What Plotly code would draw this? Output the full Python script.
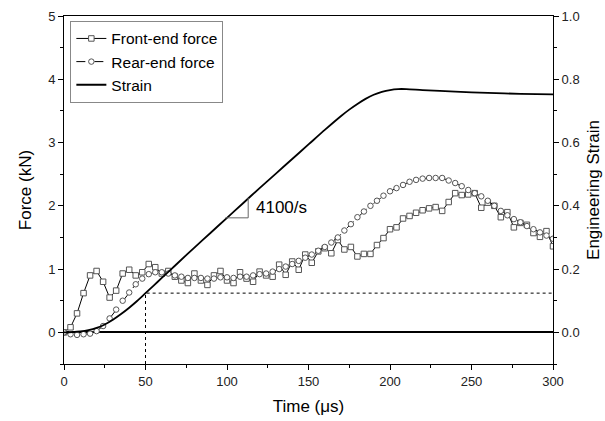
import plotly.graph_objects as go

# ---------------- data ----------------
time_us = list(range(0, 301, 4))
front_force = [0.0, 0.08, 0.3, 0.62, 0.9, 0.97, 0.8, 0.55, 0.66, 0.93,
               0.99, 0.9, 0.95, 1.08, 1.03, 0.93, 0.97, 0.88, 0.82, 0.78,
               0.93, 0.82, 0.75, 0.9, 0.97, 0.82, 0.78, 0.95, 0.85, 0.8,
               0.96, 0.9, 0.88, 1.07, 0.91, 1.12, 0.99, 1.23, 1.1, 1.28,
               1.33, 1.25, 1.46, 1.31, 1.35, 1.2, 1.24, 1.24, 1.38, 1.49,
               1.63, 1.66, 1.8, 1.84, 1.89, 1.93, 1.96, 1.98, 1.92, 2.06,
               2.2, 2.17, 2.18, 2.2, 1.97, 2.05, 2.0, 1.82, 1.9, 1.66,
               1.73, 1.7, 1.57, 1.51, 1.6, 1.36]
rear_force = [0.0, -0.03, -0.04, -0.03, -0.02, 0.02, 0.1, 0.22, 0.36, 0.5,
              0.63, 0.76, 0.85, 0.92, 0.95, 0.95, 0.93, 0.9, 0.88, 0.86,
              0.86, 0.86, 0.85, 0.85, 0.87, 0.87, 0.86, 0.88, 0.88, 0.9,
              0.92, 0.93, 0.96, 1.0, 1.04, 1.08, 1.13, 1.18, 1.23, 1.29,
              1.35, 1.42, 1.5, 1.61, 1.71, 1.82, 1.91, 2.0, 2.08, 2.16,
              2.23, 2.28, 2.33, 2.38, 2.41, 2.43, 2.44, 2.44, 2.44, 2.4,
              2.36, 2.31, 2.25, 2.2, 2.15, 2.08, 2.0, 1.92, 1.85, 1.79,
              1.74, 1.68, 1.63, 1.58, 1.53, 1.48]

strain_time = [0, 5, 10, 15, 20, 25, 30, 35, 40, 45, 50, 55, 60, 65, 70, 80,
               90, 100, 110, 120, 130, 140, 150, 160, 170, 175, 180, 185, 190,
               195, 200, 205, 210, 220, 240, 260, 280, 300]
strain = [0.0, 0.001, 0.003, 0.007, 0.014, 0.025, 0.040, 0.058, 0.078, 0.100,
          0.124, 0.148, 0.172, 0.196, 0.220, 0.268, 0.315, 0.362, 0.409, 0.456,
          0.502, 0.548, 0.594, 0.640, 0.684, 0.704, 0.722, 0.738, 0.751,
          0.760, 0.766, 0.769, 0.769, 0.766, 0.761, 0.757, 0.754, 0.752]

guide_time = 50
guide_strain = 0.124
slope_tri_time = [99, 113, 113]
slope_tri_strain = [0.362, 0.362, 0.425]
slope_label = "4100/s"

x_ticks = [0, 50, 100, 150, 200, 250, 300]
y_ticks = [0, 1, 2, 3, 4, 5]
y2_ticks = [0.0, 0.2, 0.4, 0.6, 0.8, 1.0]

FONT = "Arial, Liberation Sans, sans-serif"

fig = go.Figure()

fig.add_trace(go.Scatter(
    x=time_us, y=front_force, name="Front-end force", mode="lines+markers",
    line=dict(color="black", width=1),
    marker=dict(symbol="square", size=5.5, color="white",
                line=dict(color="#555555", width=1)),
))
fig.add_trace(go.Scatter(
    x=time_us, y=rear_force, name="Rear-end force", mode="lines+markers",
    line=dict(color="black", width=1, dash="dash"),
    marker=dict(symbol="circle", size=5.5, color="white",
                line=dict(color="#555555", width=1)),
))
fig.add_trace(go.Scatter(
    x=strain_time, y=strain, name="Strain", mode="lines", yaxis="y2",
    line=dict(color="black", width=1.8, shape="spline", smoothing=0.8),
))
fig.add_trace(go.Scatter(
    x=[guide_time, guide_time, 300], y=[-0.1, guide_strain, guide_strain],
    mode="lines", yaxis="y2", showlegend=False, hoverinfo="skip",
    line=dict(color="black", width=1, dash="dot"),
))
fig.add_trace(go.Scatter(
    x=slope_tri_time, y=slope_tri_strain, mode="lines", yaxis="y2",
    showlegend=False, hoverinfo="skip",
    line=dict(color="#666666", width=1),
))

fig.add_annotation(
    x=slope_tri_time[-1] + 3.5, y=(slope_tri_strain[0] + slope_tri_strain[-1]) / 2,
    xref="x", yref="y2", text=slope_label, showarrow=False,
    xanchor="left", yanchor="middle",
    font=dict(family=FONT, size=17, color="black"),
)

axis_common = dict(
    showgrid=False, showline=True, linecolor="black", linewidth=1,
    ticks="outside", ticklen=5, tickwidth=1, tickcolor="black",
    tickfont=dict(family=FONT, size=13, color="#222222"),
    automargin=False,
)

fig.update_layout(
    width=605, height=421,
    margin=dict(l=64, r=52, t=16, b=57),
    paper_bgcolor="white", plot_bgcolor="white",
    font=dict(family=FONT, color="black"),
    showlegend=True,
    legend=dict(
        x=0.013, y=0.986, xanchor="left", yanchor="top",
        bgcolor="white", bordercolor="#888888", borderwidth=1,
        font=dict(family=FONT, size=15.5, color="black"),
        itemwidth=30, tracegroupgap=0,
    ),
    xaxis=dict(
        range=[0, 300], tickvals=x_ticks, mirror=True, zeroline=False,
        minor=dict(dtick=25, ticks="outside", ticklen=3, tickcolor="black"),
        title=dict(text="Time (μs)", font=dict(family=FONT, size=17), standoff=12),
        **axis_common,
    ),
    yaxis=dict(
        range=[-0.5, 5], tickvals=y_ticks, zeroline=True,
        zerolinecolor="black", zerolinewidth=1.5,
        minor=dict(dtick=0.5, ticks="outside", ticklen=3, tickcolor="black"),
        title=dict(text="Force (kN)", font=dict(family=FONT, size=17), standoff=12),
        **axis_common,
    ),
    yaxis2=dict(
        range=[-0.1, 1.0], tickvals=y2_ticks, tickformat=".1f",
        overlaying="y", side="right", zeroline=False,
        minor=dict(dtick=0.1, ticks="outside", ticklen=3, tickcolor="black"),
        title=dict(text="Engineering Strain", font=dict(family=FONT, size=17), standoff=8),
        **axis_common,
    ),
)

fig.write_html("out.html")
